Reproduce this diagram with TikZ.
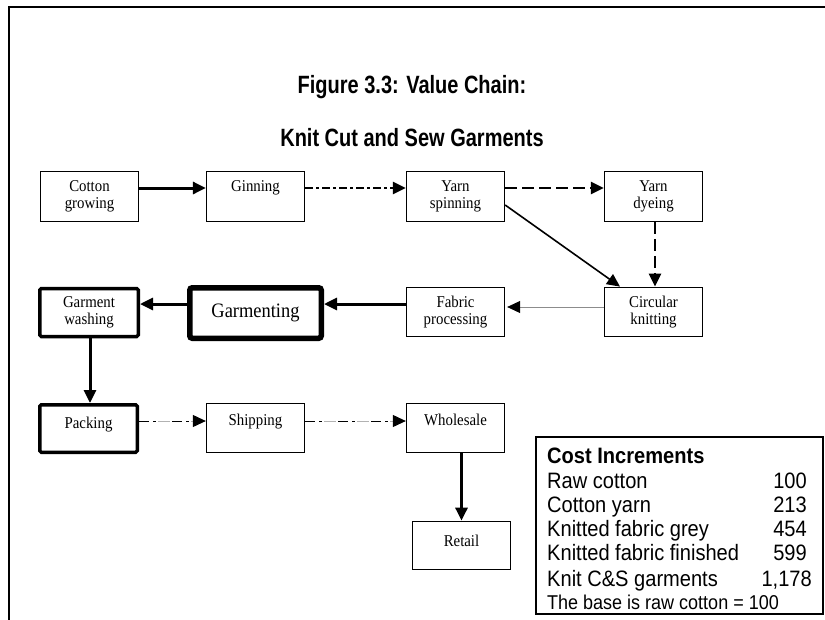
\documentclass[tikz,border=0pt]{standalone}
\usepackage{fontspec}
\usepackage{graphicx}
\setmainfont{Liberation Serif}
\newfontfamily\boxfont[FakeStretch=0.9]{Liberation Serif}
\newfontfamily\tablefont[FakeStretch=0.9]{Liberation Sans}
\newfontfamily\headfont[FakeStretch=0.8]{Liberation Sans}
\usetikzlibrary{arrows.meta}
\begin{document}
\begin{tikzpicture}[x=1pt,y=-1pt,
  stagebox/.style={draw, line width=1.3pt, minimum width=98pt, minimum height=49.5pt,
    inner sep=0pt, align=center, font=\boxfont\fontsize{16.5}{17}\selectfont},
  heavybox/.style={stagebox, line width=3.5pt, rounded corners=1.5pt},
  raised/.style={text depth=#1},
  tip/.style={-{Triangle[length=13pt,width=12pt,black]}},
  flow/.style={tip, line width=3pt},
  dashdotdot/.style={tip, line width=2.3pt, dash pattern=on 8pt off 3pt on 3pt off 3pt},
  longdash/.style={tip, line width=2.6pt, dash pattern=on 12pt off 5pt},
  thinflow/.style={tip, line width=1.6pt},
  greyflow/.style={tip, line width=0.8pt, draw=black!45},
  dotline/.style={tip, line width=1pt, dash pattern=on 10pt off 4pt on 3pt off 16pt},
  greydash/.style={line width=1pt, draw=black!30, dash pattern=on 0pt off 19pt on 12pt off 2pt},
  costtext/.style={anchor=base west, inner sep=0pt, font=\tablefont\fontsize{22.3}{22}\selectfont},
  costnum/.style={anchor=base east, inner sep=0pt, font=\tablefont\fontsize{22.3}{22}\selectfont},
  titletext/.style={font=\headfont\bfseries\fontsize{25}{25}\selectfont, inner sep=0pt}
]
\useasboundingbox (0,0) rectangle (825,619);

% outer frame (left and top edges)
\draw[line width=2pt] (9,640) -- (9,7) -- (840,7);

% title
\node[titletext] (title1) at (412,87) {Figure 3.3: Value Chain:};
\node[titletext] (title2) at (412,138) {Knit Cut and Sew Garments};

% stages
\node[stagebox] (cg)  at (89.5,196.5)  {Cotton\\growing};
\node[stagebox, raised=20pt] (gin) at (255.5,196.5) {Ginning};
\node[stagebox] (ys)  at (455.5,196.5) {Yarn\\spinning};
\node[stagebox] (yd)  at (653.5,196.5) {Yarn\\dyeing};
\node[stagebox] (ck)  at (653.5,312)   {Circular\\knitting};
\node[stagebox] (fp)  at (455.5,312)   {Fabric\\processing};
\node[stagebox, line width=5.5pt, rounded corners=2.5pt, minimum width=131.5pt, minimum height=50.5pt,
      font=\boxfont\fontsize{20.5}{22}\selectfont] (gar) at (255.5,313) {Garmenting};
\node[heavybox, minimum width=98.5pt, minimum height=48pt] (gw) at (89,312.5) {Garment\\washing};
\node[heavybox, minimum width=97.5pt, minimum height=47.5pt, raised=12pt] (pk) at (88.5,428.5) {Packing};
\node[stagebox, raised=16pt] (sh) at (255.5,428) {Shipping};
\node[stagebox, raised=17pt] (wh) at (455.5,428) {Wholesale};
\node[stagebox, minimum height=48.5pt, raised=10pt] (rt) at (461.5,545.5) {Retail};

% connectors
\draw[flow] ([yshift=8.5pt]cg.east) -- ([yshift=8.5pt]gin.west);
\draw[dashdotdot] ([yshift=8.5pt]gin.east) -- ([yshift=8.5pt]ys.west);
\draw[longdash] ([yshift=8.5pt]ys.east) -- ([yshift=8.5pt]yd.west);
\draw[thinflow] ([yshift=-8.5pt]ys.east) -- ([xshift=-33.5pt]ck.north);
\draw[longdash] ([xshift=1.5pt]yd.south) -- ([xshift=1.5pt]ck.north);
\draw[greyflow] ([yshift=5pt]ck.west) -- ([yshift=5pt, xshift=2pt]fp.east);
\draw[flow] ([yshift=8pt]fp.west) -- ([yshift=9pt]gar.east);
\draw[flow] ([yshift=9pt]gar.west) -- ([yshift=8.5pt]gw.east);
\draw[flow] ([xshift=1pt]gw.south) -- ([xshift=1.5pt]pk.north);
\draw[greydash] ([yshift=7.5pt]pk.east) -- ([yshift=7pt]sh.west);
\draw[dotline] ([yshift=7.5pt]pk.east) -- ([yshift=7pt]sh.west);
\draw[greydash] ([yshift=7pt]sh.east) -- ([yshift=7pt]wh.west);
\draw[dotline] ([yshift=7pt]sh.east) -- ([yshift=7pt]wh.west);
\draw[flow] (rt.north |- wh.south) -- (rt.north);

% cost table
\node[draw, line width=1.5pt, minimum width=287pt, minimum height=177pt, inner sep=0pt] (cost) at (679.5,525.5) {};
\node[costtext, font=\tablefont\bfseries\fontsize{22.3}{22}\selectfont] (c0) at (547,463) {Cost Increments};
\node[costtext] (c1) at (547,488) {Raw cotton};
\node[costtext] (c2) at (547,512) {Cotton yarn};
\node[costtext] (c3) at (547,536) {Knitted fabric grey};
\node[costtext] (c4) at (547,560) {Knitted fabric finished};
\node[costtext] (c5) at (547,586) {Knit C\&S garments};
\node[costtext, font=\tablefont\fontsize{20}{20}\selectfont] (c6) at (547,609) {The base is raw cotton = 100};
\node[costnum] (n1) at (807,488) {100};
\node[costnum] (n2) at (807,512) {213};
\node[costnum] (n3) at (807,536) {454};
\node[costnum] (n4) at (807,560) {599};
\node[costnum] (n5) at (812,586) {1,178};
\end{tikzpicture}
\end{document}
